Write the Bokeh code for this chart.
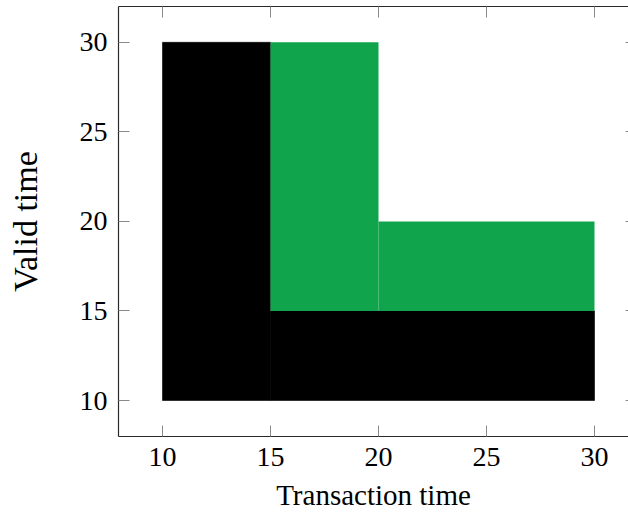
from bokeh.plotting import figure
from bokeh.models import LinearAxis, Range1d, FixedTicker
from bokeh.embed import file_html
from bokeh.resources import INLINE

# Data
black_left = [10, 15]
black_right = [15, 30]
black_bottom = [10, 10]
black_top = [30, 15]

green_left = [15, 20]
green_right = [20, 30]
green_bottom = [15, 15]
green_top = [30, 20]

x_ticks = [10, 15, 20, 25, 30]
y_ticks = [10, 15, 20, 25, 30]

FONT = "Liberation Serif"
SPINE = "#2a2a2a"
TICK = "#8a8a8a"
GREEN = "#10a44c"

p = figure(width=628, height=513, output_backend="svg", toolbar_location=None,
           x_range=Range1d(7.963, 31.574), y_range=Range1d(7.99, 32.0),
           min_border_left=118, min_border_right=0, min_border_top=6, min_border_bottom=77,
           x_axis_label="Transaction time", y_axis_label="Valid time")
p.outline_line_color = None
p.xgrid.visible = False
p.ygrid.visible = False
p.background_fill_color = "white"
p.border_fill_color = "white"

p.quad(left=black_left, right=black_right, bottom=black_bottom, top=black_top,
       fill_color="black", line_color="black", line_width=0.6)
p.quad(left=green_left, right=green_right, bottom=green_bottom, top=green_top,
       fill_color=GREEN, line_color=None)

def style_axis(ax, ticks, labels=True, tick_in=11):
    ax.ticker = FixedTicker(ticks=ticks)
    ax.major_tick_in = tick_in
    ax.major_tick_out = 0
    ax.minor_tick_line_color = None
    ax.major_tick_line_color = TICK
    ax.axis_line_color = SPINE
    ax.axis_line_width = 1.2
    if labels:
        ax.major_label_text_font = FONT
        ax.major_label_text_font_size = "28px"
        ax.major_label_text_color = "black"
        ax.axis_label_text_font = FONT
        ax.axis_label_text_font_style = "normal"
        ax.axis_label_text_color = "black"
    else:
        ax.major_label_overrides = {t: "" for t in ticks}
        ax.major_label_text_font_size = "1px"
        ax.major_label_standoff = 0

xa = p.xaxis[0]
style_axis(xa, x_ticks)
xa.major_label_standoff = 11
xa.axis_label_text_font_size = "29px"
xa.axis_label_standoff = 10

ya = p.yaxis[0]
style_axis(ya, y_ticks)
ya.major_label_standoff = 11
ya.axis_label_text_font_size = "34px"
ya.axis_label_standoff = 33

top_ax = LinearAxis()
style_axis(top_ax, x_ticks, labels=False)
p.add_layout(top_ax, "above")

right_ax = LinearAxis()
style_axis(right_ax, y_ticks, labels=False, tick_in=3)
right_ax.axis_line_color = None
p.add_layout(right_ax, "right")

open("out.html", "w").write(file_html(p, INLINE))
